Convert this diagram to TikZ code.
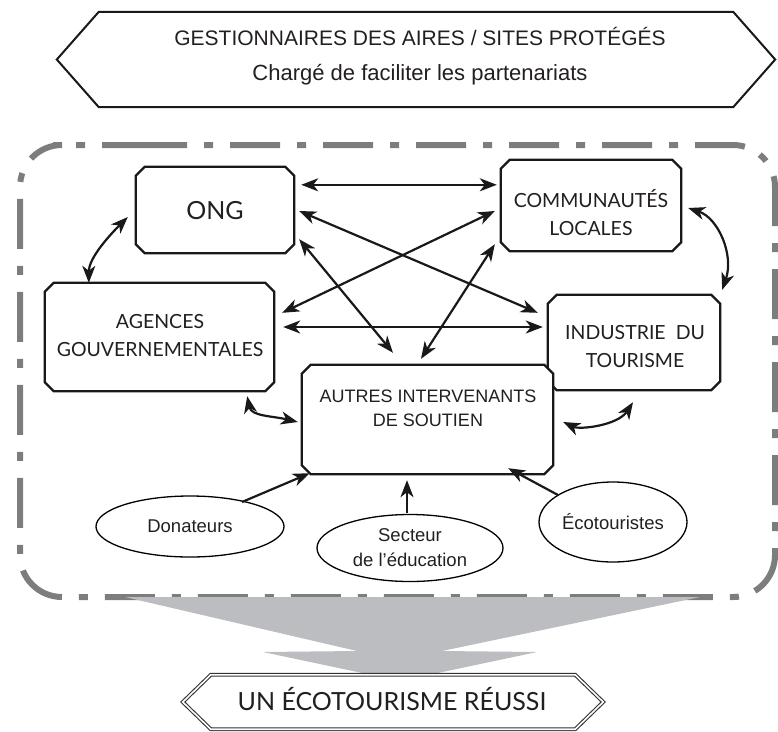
\documentclass[tikz,border=0pt]{standalone}
\usepackage{fontspec}
\setmainfont{Liberation Sans}
\newfontfamily\latofont{Lato}
\usetikzlibrary{arrows.meta,calc,shapes.geometric}
\definecolor{txt}{RGB}{35,31,32}
\definecolor{framegray}{RGB}{125,125,125}
\definecolor{funnelgray}{RGB}{188,189,192}
\begin{document}
\begin{tikzpicture}[x=1pt,y=-1pt,
  >={Stealth[length=17pt,width=13pt,inset=5pt]},
  boxnode/.style={rectangle, inner sep=0pt},
  boxline/.style={line width=2.3pt, line join=miter, fill=white, draw=black!90},
  boxtxt/.style={font=\latofont\fontsize{19.5}{28}\selectfont, text=txt, align=center, inner sep=0pt},
  conn/.style={line width=2.2pt, draw=black!90},
  ell/.style={ellipse, draw, line width=1.3pt, inner sep=0pt, font=\fontsize{18.5}{25}\selectfont, text=txt, align=center},
  frameline/.style={line width=6pt, draw=framegray, dash pattern=on 50pt off 17pt on 9pt off 17pt, rounded corners=42pt},
]
\useasboundingbox (0,0) rectangle (778,731);

% outer dash-dot frame
\draw[frameline] (95,145) -- (775,145) -- (775,597) -- (20,597) -- (20,145) -- cycle;

% funnel
\fill[funnelgray] (125,597) -- (700,597) -- (442,651) -- (537,652) -- (400,681) -- (263,652) -- (357,651) -- cycle;

% top banner
\node[boxnode, minimum width=718pt, minimum height=95pt] (top) at (416,59.5) {};
\draw[line width=2pt, fill=white, draw=black!90] (top.west) -- ($(top.north west)+(42,0)$) -- ($(top.north east)+(-42,0)$) -- (top.east) -- ($(top.south east)+(-42,0)$) -- ($(top.south west)+(42,0)$) -- cycle;
\node[font=\fontsize{21}{25}\selectfont, text=txt, anchor=base, inner sep=0pt] (t1) at (420,45) {GESTIONNAIRES DES AIRES / SITES PROTÉGÉS};
\node[font=\fontsize{22}{25}\selectfont, text=txt, anchor=base, inner sep=0pt] (t2) at (420,80) {Chargé de faciliter les partenariats};

% bottom banner
\node[boxnode, minimum width=420pt, minimum height=54pt] (bot) at (393,702) {};
\draw[double=white, double distance=1.6pt, line width=1.1pt, draw=black!80, fill=white] (bot.west) -- ($(bot.north west)+(28,0)$) -- ($(bot.north east)+(-28,0)$) -- (bot.east) -- ($(bot.south east)+(-28,0)$) -- ($(bot.south west)+(28,0)$) -- cycle;
\node[font=\latofont\fontsize{25}{30}\selectfont, text=txt, anchor=base, inner sep=0pt] (bt) at (392,710) {UN ÉCOTOURISME RÉUSSI};

% boxes
\node[boxnode, minimum width=158pt, minimum height=86pt] (ong) at (215,210) {};
\node[boxnode, minimum width=180pt, minimum height=91pt] (comm) at (591,205.5) {};
\node[boxnode, minimum width=229pt, minimum height=108pt] (agen) at (159.5,337) {};
\node[boxnode, minimum width=172pt, minimum height=95pt] (indu) at (634,342.5) {};
\node[boxnode, minimum width=251pt, minimum height=109pt] (autr) at (427.5,419.5) {};
\foreach \n in {ong,comm,agen,indu,autr}
  \draw[boxline] ($(\n.north west)+(9,0)$) -- ($(\n.north east)+(-9,0)$) -- ($(\n.north east)+(0,9)$) -- ($(\n.south east)+(0,-9)$) -- ($(\n.south east)+(-9,0)$) -- ($(\n.south west)+(9,0)$) -- ($(\n.south west)+(0,-9)$) -- ($(\n.north west)+(0,9)$) -- cycle;

\node[boxtxt, font=\latofont\fontsize{25}{30}\selectfont] (ongt) at (215,211) {ONG};
\node[boxtxt] (commt) at (591,213) {COMMUNAUTÉS\\LOCALES};
\node[boxtxt] (agent) at (160,336) {AGENCES\\GOUVERNEMENTALES};
\node[boxtxt] (indut) at (635,347) {INDUSTRIE\hspace{10pt}DU\\TOURISME};
\node[boxtxt, font=\fontsize{18}{24}\selectfont] (autrt) at (428,408) {AUTRES INTERVENANTS\\DE SOUTIEN};

% ellipses
\node[ell, minimum width=188pt, minimum height=61pt] (don) at (190,526.5) {Donateurs};
\node[ell, minimum width=186pt, minimum height=67pt] (sec) at (410,548) {Secteur\\de l'éducation};
\node[ell, minimum width=148pt, minimum height=80pt] (eco) at (613,522) {Écotouristes};

% connectors
\draw[conn,<->] ($(ong.north east)+(7,18)$) -- ($(comm.north west)+(-4,25)$);
\draw[conn,<->] ($(ong.east)+(5,1)$) -- ($(indu.north west)+(-10,18)$);
\draw[conn,<->] ($(comm.west)+(-6,5.5)$) -- ($(agen.north east)+(8,30)$);
\draw[conn,<->] ($(agen.east)+(9,-10)$) -- ($(indu.west)+(-5,-15.5)$);
\draw[conn,<->] ($(ong.south east)+(5,-14)$) -- ($(autr.north)+(-34.5,-12)$);
\draw[conn,<->] ($(comm.south west)+(-6,-7)$) -- ($(autr.north)+(-6.5,-6)$);
\draw[conn,<->] ($(agen.north west)+(44,0)$) .. controls +(0,-25) and +(-18,18) .. ($(ong.west)+(-8,7)$);
\draw[conn,<->] ($(comm.east)+(7,2.5)$) .. controls +(30,10) and +(12,-35) .. ($(indu.north east)+(2,-5)$);
\draw[conn,<->] ($(agen.south east)+(-27,5)$) .. controls +(4,20) and +(-25,-6) .. ($(autr.west)+(-4,2.5)$);
\draw[conn,<->] ($(autr.east)+(10,2.5)$) .. controls +(17,8) and +(-15,23) .. ($(indu.south)+(-1,12)$);
\draw[conn,->] ($(don.center)+(52,-24.5)$) -- ($(autr.south west)+(8,-1)$);
\draw[conn,->] ($(sec.north)+(-3,-1)$) -- ($(autr.south)+(-20.5,6)$);
\draw[conn,->] ($(eco.center)+(-55,-27)$) -- ($(autr.south east)+(-45,-6)$);
\end{tikzpicture}
\end{document}
